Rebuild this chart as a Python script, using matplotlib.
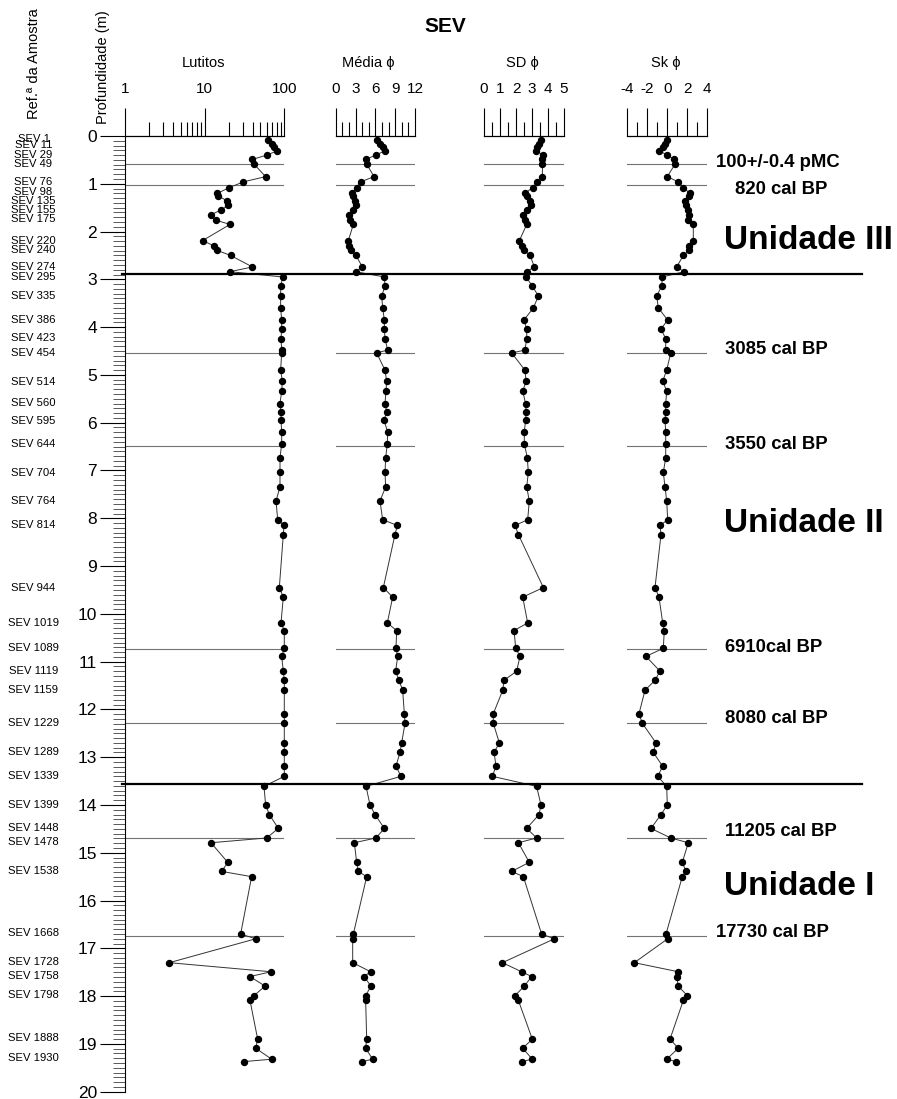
import matplotlib
matplotlib.use('Agg')
import matplotlib.pyplot as plt
from matplotlib.ticker import MultipleLocator, FixedLocator, NullFormatter

plt.rcParams['font.family'] = ['Liberation Sans', 'DejaVu Sans']
plt.rcParams['axes.unicode_minus'] = False

# ---------------------------------------------------------------
# data (depth in m)
depth = [0.08, 0.17, 0.24, 0.31, 0.40, 0.49, 0.59, 0.85, 0.96, 1.08,
         1.20, 1.26, 1.35, 1.45, 1.55, 1.65, 1.76, 1.85, 2.19, 2.30,
         2.39, 2.50, 2.74, 2.84, 2.95,
         3.14, 3.35, 3.60, 3.85, 4.04, 4.24, 4.48, 4.54, 4.90, 5.13,
         5.34, 5.60, 5.77, 5.95, 6.19, 6.44, 6.74, 7.04, 7.34, 7.64,
         8.03, 8.15, 8.34, 9.45, 9.65, 10.19, 10.35, 10.72, 10.89, 11.20,
         11.39, 11.60, 12.09, 12.29, 12.70, 12.90, 13.19, 13.40,
         13.61, 14.00, 14.20, 14.49, 14.69, 14.79, 15.20, 15.39, 15.50, 16.70,
         16.80, 17.30, 17.49, 17.59, 17.79, 17.99, 18.09, 18.90, 19.09, 19.32,
         19.37]

lutitos = [63.1, 69.4, 74.3, 81.8, 60.1, 39.7, 41.7, 58.3, 30.6, 20.4,
           14.4, 14.9, 18.9, 19.8, 16.0, 11.9, 13.7, 20.8, 9.4, 13.2,
           14.2, 21.2, 39.7, 20.8, 95.4,
           90.0, 90.0, 90.0, 92.7, 92.7, 90.9, 92.7, 92.7, 90.0, 94.5,
           92.7, 88.3, 90.9, 90.9, 92.7, 92.7, 88.3, 88.3, 88.3, 78.7,
           82.6, 99.2, 97.2, 86.6, 97.2, 90.9, 100, 100, 92.7, 97.2,
           100, 100, 100, 100, 100, 100, 100, 100,
           55.6, 58.3, 64.9, 84.1, 60.1, 12.0, 19.5, 16.4, 38.9, 28.3,
           43.7, 3.6, 68.1, 37.1, 57.3, 41.7, 37.1, 46.3, 43.7, 69.4,
           31.2]

media = [6.20, 6.70, 7.21, 7.46, 6.05, 4.53, 4.69, 5.80, 3.78, 3.17,
         2.52, 2.67, 2.92, 3.02, 2.57, 2.01, 2.16, 2.67, 1.91, 2.06,
         2.32, 3.07, 4.03, 3.02, 7.36,
         7.46, 6.96, 7.11, 7.36, 7.36, 7.46, 7.86, 6.20, 7.46, 7.71,
         7.61, 7.46, 7.71, 7.31, 7.86, 7.81, 7.56, 7.46, 7.56, 6.70,
         7.11, 9.33, 8.97, 7.21, 8.62, 7.81, 9.23, 9.12, 9.38, 9.07,
         9.58, 10.13, 10.39, 10.49, 9.98, 9.73, 9.12, 9.88,
         4.59, 5.19, 5.95, 7.36, 6.10, 2.82, 3.17, 3.42, 4.69, 2.67,
         2.57, 2.57, 5.29, 4.28, 5.34, 4.53, 4.53, 4.69, 4.53, 5.59,
         4.03]

sd = [3.56, 3.46, 3.33, 3.25, 3.71, 3.60, 3.65, 3.65, 3.33, 3.04,
      2.56, 2.67, 2.88, 2.92, 2.67, 2.42, 2.56, 2.67, 2.21, 2.35,
      2.52, 2.88, 3.15, 2.67, 2.63,
      3.02, 3.40, 3.08, 2.50, 2.67, 2.67, 2.56, 1.73, 2.56, 2.63,
      2.42, 2.60, 2.63, 2.60, 2.52, 2.52, 2.71, 2.77, 2.67, 2.83,
      2.73, 1.94, 2.15, 3.71, 2.42, 2.73, 1.88, 1.98, 2.25, 2.04,
      1.25, 1.17, 0.58, 0.58, 0.96, 0.63, 0.75, 0.52,
      3.29, 3.56, 3.44, 2.67, 3.29, 2.15, 2.83, 1.73, 2.46, 3.60,
      4.40, 1.15, 2.35, 2.98, 2.52, 1.94, 2.15, 3.02, 2.42, 3.02,
      2.35]

sk = [-0.06, -0.23, -0.46, -0.80, 0.00, 0.70, 0.77, 0.00, 1.10, 1.60,
      2.27, 2.20, 1.77, 1.87, 2.04, 2.20, 2.10, 2.60, 2.60, 2.20,
      2.20, 1.60, 0.94, 1.67, -0.50,
      -0.56, -1.06, -0.90, 0.04, -0.63, -0.16, -0.16, 0.34, -0.06, -0.46,
      -0.06, -0.16, -0.16, -0.23, -0.16, -0.16, -0.16, -0.40, -0.23, -0.06,
      0.04, -0.73, -0.63, -1.23, -0.83, -0.46, -0.30, -0.40, -2.13, -0.73,
      -1.23, -2.23, -2.83, -2.50, -1.13, -1.40, -0.46, -0.96,
      -0.06, 0.00, -0.63, -1.63, 0.34, 2.10, 1.50, 1.87, 1.50, -0.13,
      0.04, -3.30, 1.10, 0.94, 1.10, 2.00, 1.60, 0.27, 1.10, -0.06,
      0.87]

# sample references shown on the left and where they sit (m)
sample_names = ['SEV 1', 'SEV 11', 'SEV 29', 'SEV 49', 'SEV 76', 'SEV 98',
                'SEV 135', 'SEV 155', 'SEV 175', 'SEV 220', 'SEV 240',
                'SEV 274', 'SEV 295', 'SEV 335', 'SEV 386', 'SEV 423',
                'SEV 454', 'SEV 514', 'SEV 560', 'SEV 595', 'SEV 644',
                'SEV 704', 'SEV 764', 'SEV 814', 'SEV 944', 'SEV 1019',
                'SEV 1089', 'SEV 1119', 'SEV 1159', 'SEV 1229', 'SEV 1289',
                'SEV 1339', 'SEV 1399', 'SEV 1448', 'SEV 1478', 'SEV 1538',
                'SEV 1668', 'SEV 1728', 'SEV 1758', 'SEV 1798', 'SEV 1888',
                'SEV 1930']
sample_depths = [0.07, 0.19, 0.40, 0.59, 0.97, 1.17, 1.35, 1.55, 1.74, 2.19,
                 2.39, 2.74, 2.95, 3.34, 3.85, 4.23, 4.54, 5.14, 5.59, 5.96,
                 6.45, 7.05, 7.64, 8.14, 9.45, 10.19, 10.72, 11.19, 11.60,
                 12.29, 12.89, 13.40, 13.99, 14.48, 14.78, 15.38, 16.68,
                 17.29, 17.58, 17.98, 18.88, 19.30]

# dating levels and unit boundaries
date_depths = [0.59, 1.03, 4.54, 6.49, 10.74, 12.29, 14.69, 16.75]
date_labels = ['100+/-0.4 pMC', '820 cal BP', '3085 cal BP', '3550 cal BP',
               '6910cal BP', '8080 cal BP', '11205 cal BP', '17730 cal BP']
date_label_depths = [0.55, 1.11, 4.47, 6.45, 10.70, 12.19, 14.56, 16.67]
unit_bounds = [2.89, 13.56]
unit_names = ['Unidade III', 'Unidade II', 'Unidade I']
unit_label_depths = [2.18, 8.11, 15.71]

# ---------------------------------------------------------------
W, H = 897, 1099
TOP_PX, BOT_PX = 136, 1091.7   # pixel rows of depth 0 and 20


def box(x0, x1):
    return [x0 / W, 1 - BOT_PX / H, (x1 - x0) / W, (BOT_PX - TOP_PX) / H]


def style_column(ax, keep_left=False):
    ax.set_facecolor('none')
    ax.set_ylim(20, 0)
    for side in ['right', 'bottom']:
        ax.spines[side].set_visible(False)
    ax.spines['left'].set_visible(keep_left)
    ax.spines['top'].set_linewidth(0.9)
    ax.tick_params(axis='x', which='both', bottom=False, top=True,
                   labelbottom=False, labeltop=True, direction='out')
    ax.tick_params(axis='x', which='major', length=20, width=0.8, pad=9,
                   labelsize=11)
    ax.tick_params(axis='x', which='minor', length=10, width=0.8)


fig = plt.figure(figsize=(W / 100, H / 100), dpi=100)

columns = [
    ('Lutitos', lutitos, (125, 284.3), (1, 100), [1, 10, 100], None, 203),
    ('Média \u03d5', media, (335.7, 415), (0, 12), [0, 3, 6, 9, 12], 1, 368),
    ('SD \u03d5', sd, (484, 564), (0, 5), [0, 1, 2, 3, 4, 5], 0.5, 522),
    ('Sk \u03d5', sk, (627.3, 707.3), (-4, 4), [-4, -2, 0, 2, 4], 1, 666),
]

for i, (title, vals, px, lim, majors, minor_step, title_x) in enumerate(columns):
    ax = fig.add_axes(box(*px))
    style_column(ax, keep_left=(i == 0))
    if i == 0:
        ax.set_xscale('log')
        ax.xaxis.set_minor_locator(FixedLocator(
            [m * 10 ** e for e in range(2) for m in range(2, 10)]))
        ax.xaxis.set_minor_formatter(NullFormatter())
        # depth scale on the left spine
        ax.yaxis.set_major_locator(MultipleLocator(1))
        ax.yaxis.set_minor_locator(MultipleLocator(0.1))
        ax.tick_params(axis='y', which='major', length=18, width=0.8,
                       pad=2, labelsize=12.5)
        ax.tick_params(axis='y', which='minor', length=9, width=0.7,
                       color='0.35')
    else:
        ax.xaxis.set_minor_locator(MultipleLocator(minor_step))
        ax.set_yticks([])
    ax.set_xlim(*lim)
    ax.set_xticks(majors)
    ax.set_xticklabels([str(m) for m in majors])
    ax.set_ylim(20, 0)

    for d in date_depths:
        ax.axhline(d, color='0.45', lw=0.8, zorder=1)
    ax.plot(vals, depth, '-', color='0.2', lw=0.7, zorder=2, clip_on=False)
    ax.plot(vals, depth, 'o', color='black', ms=4.3, zorder=3, clip_on=False)

    fig.text(title_x / W, 1 - 63 / H, title, ha='center', va='center',
             fontsize=10.5)

# overlay in pixel x / depth y for the boundaries and annotations
top = fig.add_axes([0, 1 - BOT_PX / H, 1, (BOT_PX - TOP_PX) / H])
top.set_xlim(0, W)
top.set_ylim(20, 0)
top.axis('off')

for b in unit_bounds:
    top.axhline(b, xmin=122 / W, xmax=862 / W, color='black', lw=1.6)

for name, d in zip(sample_names, sample_depths):
    top.text(33.5, d, name, ha='center', va='center', fontsize=8.1)

for lab, d in zip(date_labels, date_label_depths):
    x0 = 716 if lab.startswith(('100', '1773')) else 725
    if lab.startswith('820'):
        x0 = 735
    top.text(x0, d, lab, ha='left', va='center', fontsize=13.3,
             fontweight='bold')

for lab, d in zip(unit_names, unit_label_depths):
    top.text(724, d, lab, ha='left', va='center', fontsize=24,
             fontweight='bold')

fig.text(445 / W, 1 - 27 / H, 'SEV', ha='center', va='center',
         fontsize=15, fontweight='bold')
fig.text(33.5 / W, 1 - 64 / H, 'Ref.\u00aa da Amostra', rotation=90,
         ha='center', va='center', fontsize=10.5)
fig.text(102.5 / W, 1 - 67.5 / H, 'Profundidade (m)', rotation=90,
         ha='center', va='center', fontsize=10.5)

fig.savefig('out.png', dpi=100)
